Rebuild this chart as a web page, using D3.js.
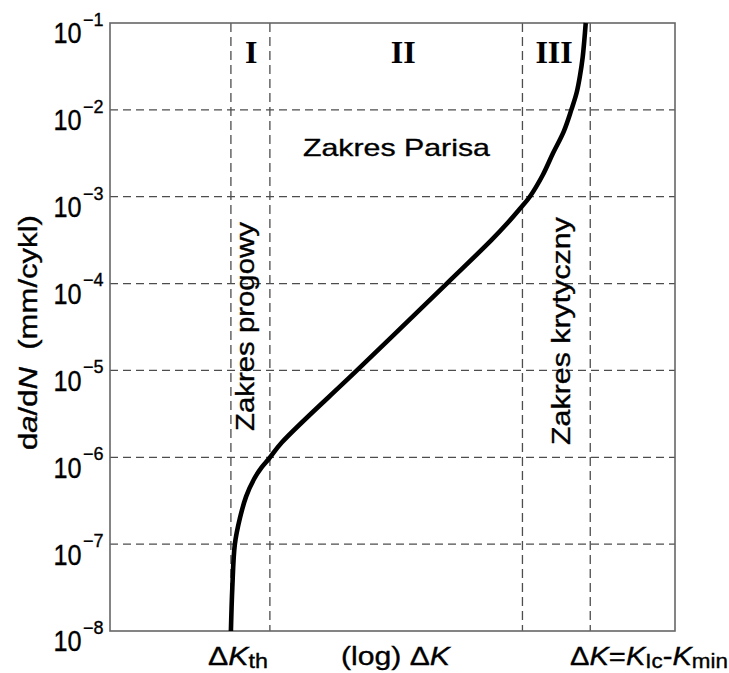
<!DOCTYPE html>
<html>
<head>
<meta charset="utf-8">
<script src="https://cdn.jsdelivr.net/npm/d3@7/dist/d3.min.js"></script>
<style>
  html, body { margin: 0; padding: 0; background: #fff; }
  svg { display: block; }
  .sans { font-family: "Liberation Sans", Arial, Helvetica, sans-serif; fill: #000; stroke: #000; stroke-width: 0.35px; }
  .serif { font-family: "Liberation Serif", "Times New Roman", serif; font-weight: bold; fill: #000; }
</style>
</head>
<body>
<svg id="chart" width="729" height="673"></svg>
<script>
// Fatigue crack growth rate vs. stress intensity range (schematic, log-log)

// decade exponents on the rate axis
const rateExponents = [-8, -7, -6, -5, -4, -3, -2, -1];

// log ΔK position (arbitrary units) of the region boundaries:
// ΔK_th, end of region I, start of region III, K_c
const regionBounds = [2.14, 2.83, 7.30, 8.50];

// region labels and their positions along log ΔK
const regionNames = ["I", "II", "III"];
const regionLabelK = [2.50, 5.19, 7.86];

// the crack growth curve: log ΔK (arb. units) and log10(da/dN)
const curveLogK = [2.14, 2.165, 2.21, 2.30, 2.41, 2.55, 2.68, 2.81, 3.04,
                   4.37, 5.96, 6.75, 7.04, 7.24, 7.43, 7.66, 7.84, 8.03,
                   8.165, 8.26, 8.32, 8.365, 8.395, 8.42];
const curveLogRate = [-8.0, -7.5, -7.0, -6.7, -6.45, -6.25, -6.12, -6.02, -5.83,
                      -5.0, -4.0, -3.5, -3.3, -3.15, -3.0, -2.75, -2.5, -2.25,
                      -2.0, -1.8, -1.6, -1.4, -1.2, -1.0];

const svg = d3.select("#chart");
const plot = { left: 110, right: 675, top: 23, bottom: 631 };

const x = d3.scaleLinear().domain([0, 10]).range([plot.left, plot.right]);
const y = d3.scaleLog().domain([1e-8, 1e-1]).range([plot.bottom, plot.top]);

const gridColor = "#4d4d4d";

// horizontal decade gridlines
svg.append("g")
  .selectAll("line")
  .data(rateExponents.slice(1, -1))
  .join("line")
  .attr("x1", plot.left).attr("x2", plot.right)
  .attr("y1", e => y(Math.pow(10, e))).attr("y2", e => y(Math.pow(10, e)))
  .attr("stroke", gridColor).attr("stroke-width", 1.3)
  .attr("stroke-dasharray", "8,5");

// vertical region boundaries
svg.append("g")
  .selectAll("line")
  .data(regionBounds)
  .join("line")
  .attr("x1", d => x(d)).attr("x2", d => x(d))
  .attr("y1", plot.top).attr("y2", plot.bottom)
  .attr("stroke", gridColor).attr("stroke-width", 1.3)
  .attr("stroke-dasharray", "9,5");

// frame
svg.append("rect")
  .attr("x", plot.left).attr("y", plot.top)
  .attr("width", plot.right - plot.left).attr("height", plot.bottom - plot.top)
  .attr("fill", "none").attr("stroke", "#666").attr("stroke-width", 1.6);

// crack growth curve
const pts = curveLogK.map((k, i) => [k, Math.pow(10, curveLogRate[i])]);
svg.append("path")
  .datum(pts)
  .attr("fill", "none")
  .attr("stroke", "#000")
  .attr("stroke-width", 4.6)
  .attr("d", d3.line().x(d => x(d[0])).y(d => y(d[1])).curve(d3.curveCatmullRom.alpha(0.5)));

// y tick labels: 10 with superscript exponent
const tickG = svg.append("g");
rateExponents.forEach(e => {
  const yy = y(Math.pow(10, e));
  tickG.append("text").attr("class", "sans").attr("text-anchor", "end")
    .attr("font-size", 29)
    .attr("transform", `translate(81.5,${yy + 20.4}) scale(0.87,1)`)
    .text("10");
  tickG.append("text").attr("class", "sans")
    .attr("font-size", 18)
    .attr("x", 83).attr("y", yy + 2.8)
    .text("\u2212" + Math.abs(e));
});

// helper: build a text from parts and stretch it horizontally to a target length
function richText(parent, parts, opts) {
  const g = parent.append("g");
  const t = g.append("text").attr("class", "sans").attr("font-size", opts.size);
  parts.forEach(p => {
    const s = t.append("tspan").text(p.t);
    if (p.i) s.attr("font-style", "italic");
    if (p.s) s.attr("font-size", p.s);
    if (p.dy) s.attr("dy", p.dy);
  });
  const w = t.node().getComputedTextLength();
  const sx = opts.len ? opts.len / w : 1;
  t.attr("transform", `scale(${sx},1)`);
  let tr = `translate(${opts.x},${opts.y})`;
  if (opts.rotate) tr += ` rotate(${opts.rotate})`;
  g.attr("transform", tr);
  return g;
}

// y axis title
richText(svg, [
  { t: "d" }, { t: "a", i: true }, { t: "/d" }, { t: "N", i: true },
  { t: "\u00a0\u00a0(mm/cykl)" }
], { size: 25, x: 37, y: 450, rotate: -90, len: 235 });

// region numerals
svg.append("g")
  .selectAll("text")
  .data(regionNames)
  .join("text")
  .attr("class", "serif")
  .attr("font-size", 32)
  .attr("text-anchor", "middle")
  .attr("x", (d, i) => x(regionLabelK[i]))
  .attr("y", 63)
  .text(d => d);

// region descriptions
richText(svg, [{ t: "Zakres Parisa" }], { size: 24, x: 303, y: 156, len: 187 });
richText(svg, [{ t: "Zakres progowy" }], { size: 25, x: 254, y: 431, rotate: -90, len: 209 });
richText(svg, [{ t: "Zakres krytyczny" }], { size: 25, x: 570, y: 445, rotate: -90, len: 228 });

// x axis labels
richText(svg, [
  { t: "\u0394" }, { t: "K", i: true }, { t: "th", s: 20, dy: 3 }
], { size: 26, x: 208, y: 665, len: 60 });
richText(svg, [
  { t: "(log) \u0394" }, { t: "K", i: true }
], { size: 26, x: 341, y: 665, len: 109 });
richText(svg, [
  { t: "\u0394" }, { t: "K", i: true }, { t: "=" }, { t: "K", i: true },
  { t: "Ic", s: 20, dy: 3 }, { t: "-", dy: -3 }, { t: "K", i: true },
  { t: "min", s: 20, dy: 3 }
], { size: 26, x: 570, y: 665, len: 158 });
</script>
</body>
</html>
